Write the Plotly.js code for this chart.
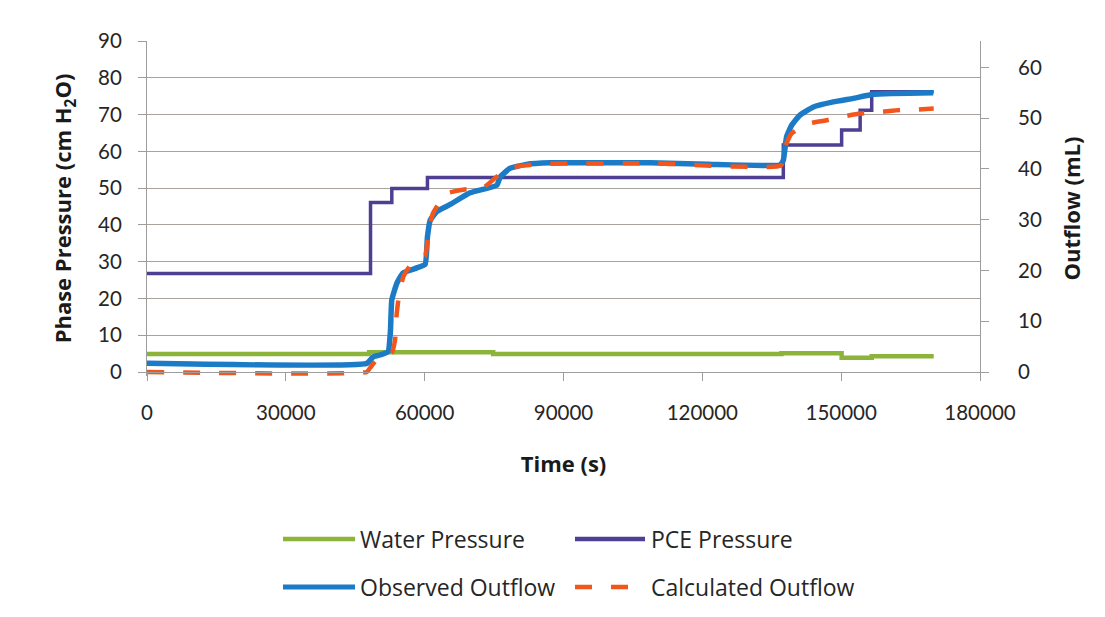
<!DOCTYPE html>
<html>
<head>
<meta charset="utf-8">
<script src="https://cdn.plot.ly/plotly-3.0.1.min.js"></script>
<style>
html,body{margin:0;padding:0;background:#fff;}
#chart{width:1105px;height:617px;}
</style>
</head>
<body>
<div id="chart"></div>
<script>
// ---- Data ----
// Water pressure (cm H2O), step changes
const waterTime  = [0, 48000, 74800, 137100, 150100, 156600, 170000];
const waterValue = [4.9, 5.4, 4.9, 5.1, 3.9, 4.3, 4.3];

// PCE pressure (cm H2O), step changes
const pceTime  = [0, 48300, 52900, 60600, 137500, 150100, 154100, 156600, 170000];
const pceValue = [26.8, 46.1, 49.9, 52.9, 61.7, 65.8, 71.2, 76.2, 76.2];

// Observed outflow (mL)
const obsTime  = [0, 47500, 48900, 50500, 52100, 52600, 52900, 54000, 55300, 58300, 60100, 60600, 61200, 62600, 65500, 69800, 75600, 76300, 78400, 82000, 87100, 108700, 121000, 136800, 137500, 138200, 139300, 141100, 144000, 148300, 152600, 157000, 169900];
const obsValue = [1.7, 1.7, 3.0, 3.4, 4.0, 8.0, 14.2, 17.5, 19.5, 20.5, 21.2, 26.6, 29.9, 31.6, 33.0, 35.3, 36.8, 38.4, 40.1, 40.9, 41.2, 41.2, 40.9, 40.8, 41.7, 46.3, 48.6, 50.6, 52.2, 53.2, 53.9, 54.7, 55.0];

// Calculated outflow (mL)
const calcTime  = [0, 47500, 48200, 49600, 52900, 53600, 53900, 54500, 55400, 57200, 59400, 60100, 61000, 61800, 63300, 64800, 69000, 72500, 75500, 78000, 81700, 85000, 110000, 137000, 137900, 139300, 143300, 146900, 150400, 154100, 158400, 162700, 166300, 170000];
const calcValue = [0, 0, 0.8, 2.4, 3.8, 6.3, 10.9, 15.5, 18.8, 21.4, 22.5, 22.8, 28.6, 31.3, 33.5, 35.2, 36.0, 36.2, 38.4, 40.1, 40.7, 41.0, 41.1, 40.7, 44.4, 47.0, 49.0, 49.6, 50.3, 50.9, 51.2, 51.6, 51.7, 51.9];

const seriesNames = ['Water Pressure', 'PCE Pressure', 'Observed Outflow', 'Calculated Outflow'];
const colors = ['#8db43a', '#4e3f93', '#1b7bc6', '#f2561d'];

const xTickVals = [0, 30000, 60000, 90000, 120000, 150000, 180000];

// ---- Traces ----
const traces = [
  {x: waterTime, y: waterValue, name: seriesNames[0], type: 'scatter', mode: 'lines',
   line: {color: colors[0], width: 4.5, shape: 'hv'}, yaxis: 'y'},
  {x: pceTime, y: pceValue, name: seriesNames[1], type: 'scatter', mode: 'lines',
   line: {color: colors[1], width: 3.5, shape: 'hv'}, yaxis: 'y'},
  {x: obsTime, y: obsValue, name: seriesNames[2], type: 'scatter', mode: 'lines',
   line: {color: colors[2], width: 5.5, shape: 'spline', smoothing: 0.4}, yaxis: 'y2'},
  {x: calcTime, y: calcValue, name: seriesNames[3], type: 'scatter', mode: 'lines',
   line: {color: colors[3], width: 4.5, dash: '17px,19px', shape: 'spline', smoothing: 0.4}, yaxis: 'y2'}
];

// ---- Geometry (pixels) ----
const L = 147, R = 980, T = 41, Z = 372;   // Z: pixel row of the zero line
const extra = 4;                            // room below zero so lines at 0 are not clipped
const B = Z + extra;
const yMax = 90, y2Max = 65.2;
const yMin = -extra * yMax / (Z - T);
const y2Min = -extra * y2Max / (Z - T);

// ---- Manual legend (long line samples like the original) ----
const px = v => (v - L) / (R - L);
const py = v => (B - v) / (B - T);
const legendRows = [
  {i: 0, x0: 283, x1: 355, y: 539, tx: 358},
  {i: 1, x0: 575, x1: 645, y: 539, tx: 649},
  {i: 2, x0: 283, x1: 355, y: 587, tx: 358},
  {i: 3, x0: 575, x1: 645, y: 587, tx: 649}
];
const shapes = legendRows.map(r => ({
  type: 'line', xref: 'paper', yref: 'paper',
  x0: px(r.x0), x1: px(r.x1), y0: py(r.y), y1: py(r.y),
  line: {color: colors[r.i], width: r.i === 2 ? 5 : 4.5, dash: r.i === 3 ? '17px,19px' : 'solid'}
}));
const annotations = legendRows.map(r => ({
  xref: 'paper', yref: 'paper', x: px(r.tx), y: py(r.y),
  xanchor: 'left', yanchor: 'middle', showarrow: false,
  text: seriesNames[r.i], font: {family: '"Open Sans", sans-serif', size: 23, color: '#262626'}
}));

const axisGray = '#9d9d9d';
const tickFont = {family: 'Lato, sans-serif', size: 20.5, color: '#262626'};
const titleFont = {family: '"Open Sans", sans-serif', size: 22, color: '#1a1a1a'};

const layout = {
  width: 1105, height: 617,
  margin: {l: L, r: 1105 - R, t: T, b: 617 - B},
  paper_bgcolor: '#ffffff', plot_bgcolor: '#ffffff',
  showlegend: false,
  xaxis: {
    range: [0, 180000], tickvals: xTickVals, ticktext: xTickVals.map(String),
    anchor: 'free', position: extra / (B - T),
    showgrid: false, zeroline: false, showline: true, linecolor: axisGray, linewidth: 1,
    ticks: 'outside', ticklen: 8, tickcolor: axisGray, tickfont: tickFont,
    ticklabelstandoff: 14,
    title: {text: '<b>Time (s)</b>', font: titleFont, standoff: 34}
  },
  yaxis: {
    range: [yMin, yMax], tickvals: [0, 10, 20, 30, 40, 50, 60, 70, 80, 90],
    showgrid: true, gridcolor: '#aaa39b', gridwidth: 1, zeroline: false,
    showline: true, linecolor: axisGray, linewidth: 1,
    ticks: 'outside', ticklen: 8, tickcolor: axisGray, tickfont: tickFont,
    ticklabelstandoff: 12,
    title: {text: '<b>Phase Pressure (cm H<sub>2</sub>O)</b>', font: titleFont, standoff: 20}
  },
  yaxis2: {
    range: [y2Min, y2Max], tickvals: [0, 10, 20, 30, 40, 50, 60], overlaying: 'y', side: 'right',
    showgrid: false, zeroline: false, showline: true, linecolor: axisGray, linewidth: 1,
    ticks: 'outside', ticklen: 8, tickcolor: axisGray, tickfont: tickFont,
    ticklabelstandoff: 25,
    title: {text: '<b>Outflow (mL)</b>', font: titleFont, standoff: 23}
  },
  shapes: shapes,
  annotations: annotations
};

Plotly.newPlot('chart', traces, layout, {displayModeBar: false, staticPlot: true});
</script>
</body>
</html>
